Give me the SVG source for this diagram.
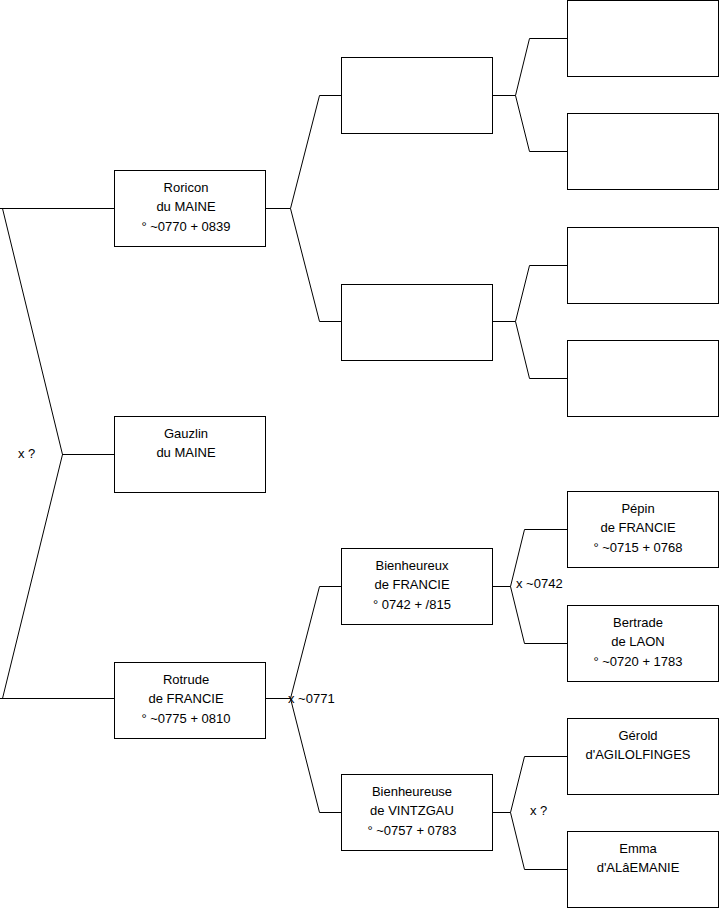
<svg xmlns="http://www.w3.org/2000/svg" width="719" height="908" viewBox="0 0 719 908">
<style>
.box{fill:#fff;stroke:#000;stroke-width:1}
.ln{fill:none;stroke:#000;stroke-width:1}
text{font-family:"Liberation Sans",Arial,sans-serif;font-size:13px;fill:#000}
.c{text-anchor:middle}
</style>
<rect width="719" height="908" fill="#fff"/>
<g id="connectors">
<polyline class="ln" points="2.5,208.5 62.5,454.5 2.5,698.5"/>
<line class="ln" x1="0" y1="208.5" x2="114" y2="208.5"/>
<line class="ln" x1="0" y1="698.5" x2="114" y2="698.5"/>
<line class="ln" x1="62" y1="454.5" x2="114" y2="454.5"/>
<polyline class="ln" points="265,208.5 290.5,208.5 319.5,95.5 341,95.5"/>
<polyline class="ln" points="290.5,208.5 319.5,321.5 341,321.5"/>
<polyline class="ln" points="265,698.5 290.5,698.5 319.5,586.5 341,586.5"/>
<polyline class="ln" points="290.5,698.5 319.5,812.5 341,812.5"/>
<polyline class="ln" points="492,95.5 515.5,95.5 529.5,38.5 567,38.5"/>
<polyline class="ln" points="515.5,95.5 529.5,151.5 567,151.5"/>
<polyline class="ln" points="492,321.5 515.5,321.5 529.5,265.5 567,265.5"/>
<polyline class="ln" points="515.5,321.5 529.5,378.5 567,378.5"/>
<polyline class="ln" points="492,586.5 510.5,586.5 524.5,529.5 567,529.5"/>
<polyline class="ln" points="510.5,586.5 524.5,643.5 567,643.5"/>
<polyline class="ln" points="492,812.5 510.5,812.5 524.5,756.5 567,756.5"/>
<polyline class="ln" points="510.5,812.5 524.5,869.5 567,869.5"/>
<text x="18" y="458">x ?</text>
<text x="288" y="703">x ~0771</text>
<text x="516" y="588">x ~0742</text>
<text x="530" y="815">x ?</text>
</g>
<g id="roricon"><rect class="box" x="114.5" y="170.5" width="151" height="76"/>
<text class="c" x="186" y="191.5">Roricon</text><text class="c" x="186" y="211">du MAINE</text><text class="c" x="186" y="230.5">° ~0770 + 0839</text></g>
<g id="gauzlin"><rect class="box" x="114.5" y="416.5" width="151" height="76"/>
<text class="c" x="186" y="437.5">Gauzlin</text><text class="c" x="186" y="457">du MAINE</text></g>
<g id="rotrude"><rect class="box" x="114.5" y="662.5" width="151" height="76"/>
<text class="c" x="186" y="683.5">Rotrude</text><text class="c" x="186" y="703">de FRANCIE</text><text class="c" x="186" y="722.5">° ~0775 + 0810</text></g>
<g id="p1"><rect class="box" x="341.5" y="57.5" width="151" height="76"/></g>
<g id="p2"><rect class="box" x="341.5" y="284.5" width="151" height="76"/></g>
<g id="bienheureux"><rect class="box" x="341.5" y="548.5" width="151" height="76"/>
<text class="c" x="412" y="569.5">Bienheureux</text><text class="c" x="412" y="589">de FRANCIE</text><text class="c" x="412" y="608.5">° 0742 + /815</text></g>
<g id="bienheureuse"><rect class="box" x="341.5" y="774.5" width="151" height="76"/>
<text class="c" x="412" y="795.5">Bienheureuse</text><text class="c" x="412" y="815">de VINTZGAU</text><text class="c" x="412" y="834.5">° ~0757 + 0783</text></g>
<g id="g1"><rect class="box" x="567.5" y="0.5" width="151" height="76"/></g>
<g id="g2"><rect class="box" x="567.5" y="113.5" width="151" height="76"/></g>
<g id="g3"><rect class="box" x="567.5" y="227.5" width="151" height="76"/></g>
<g id="g4"><rect class="box" x="567.5" y="340.5" width="151" height="76"/></g>
<g id="pepin"><rect class="box" x="567.5" y="491.5" width="151" height="76"/>
<text class="c" x="638" y="512.5">Pépin</text><text class="c" x="638" y="532">de FRANCIE</text><text class="c" x="638" y="551.5">° ~0715 + 0768</text></g>
<g id="bertrade"><rect class="box" x="567.5" y="605.5" width="151" height="76"/>
<text class="c" x="638" y="626.5">Bertrade</text><text class="c" x="638" y="646">de LAON</text><text class="c" x="638" y="665.5">° ~0720 + 1783</text></g>
<g id="gerold"><rect class="box" x="567.5" y="718.5" width="151" height="76"/>
<text class="c" x="638" y="739.5">Gérold</text><text class="c" x="638" y="759">d'AGILOLFINGES</text></g>
<g id="emma"><rect class="box" x="567.5" y="831.5" width="151" height="76"/>
<text class="c" x="638" y="852.5">Emma</text><text class="c" x="638" y="872">d'ALâEMANIE</text></g>
</svg>
